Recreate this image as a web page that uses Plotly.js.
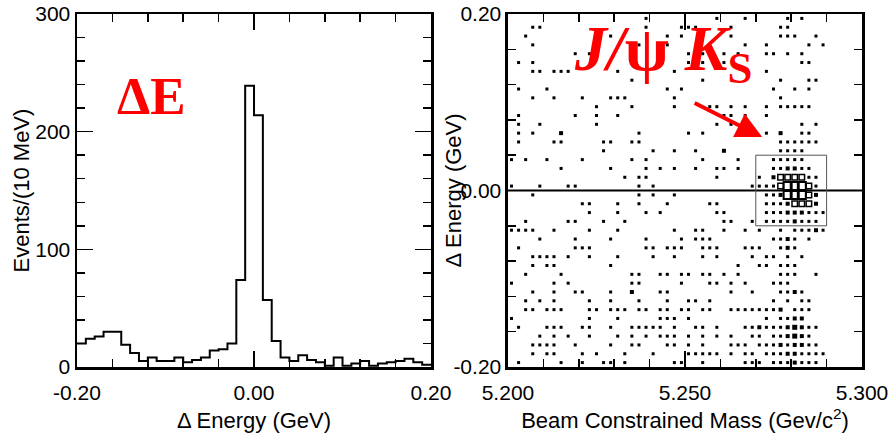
<!DOCTYPE html>
<html><head><meta charset="utf-8">
<script src="https://cdn.plot.ly/plotly-3.0.1.min.js"></script>
<style>html,body{margin:0;padding:0;background:#fff}#chart{width:890px;height:434px}</style>
</head><body><div id="chart"></div>
<script>
// ---- Left panel: Delta E histogram (10 MeV bins from -0.20 GeV) ----
const histBinStart = -0.20;
const histBinWidth = 0.01;
const histCounts = [20,24,26,30,30,19,12,5,8,5,5,8,4,6,8,14,15,20,74,239,
                    214,57,22,8,5,10,6,4,1,8,1,3,5,1,3,4,5,7,4,2];
const leftXTickVals = [-0.2, 0, 0.2];
const leftXTickText = ['-0.20', '0.00', '0.20'];
const leftYTickVals = [0, 100, 200, 300];
const leftYTickText = ['0', '100', '200', '300'];

// ---- Right panel: box plot of Delta E vs beam constrained mass ----
// bins: mass 5.200..5.300 in 0.002 steps (50 columns), dE 0.20..-0.20 in 0.01 steps (40 rows, top first)
const massStart = 5.200;
const massBinWidth = 0.002;
const deTop = 0.20;
const deBinWidth = 0.01;
// each row lists the mass-column index of every entry (repeated index = more entries)
const cellRows = [
  [19,29,33,39,41],
  [3,4,19,24,25,26,31,38,39],
  [2,14,22,24,31,38,39,40,43],
  [3,18,22,33,36,42,44],
  [9,11,25,27,30,32,36,37,39,41],
  [1,3,25,27,30,41,42],
  [3,4,6,7,8,15,23,36],
  [17,27,38,42,43],
  [1,5,22,24,37,40,42],
  [3,6,10,14,15,16,23,38],
  [12,17,23,28,29,31,33,36,38,39,40,41,42],
  [1,9,12,15,30,31,33,36],
  [1,4,12,29,31,41,43],
  [1,3,7,7,18,25,27,36,38,38,41,42],
  [1,6,7,13,14,17,18,38,39,40,41,42,43],
  [13,20,23,26,30,30,38,39,40,41],
  [0,2,5,10,17,19,27,32,37,38,39,40,41],
  [7,14,19,21,23,26,29,30,32,37,38,39,39,40,40,41,42],
  [16,18,19,29,35,37,37,38,38,38,38,39,39,39,39,40,40,40,40,41,41,41,41,42,43],
  [0,4,8,9,18,20,34,35,36,37,38,38,38,38,39,39,39,39,39,39,40,40,40,40,40,40,41,41,41,41,41,41,42,42,42,42,43],
  [3,18,20,23,36,37,38,38,39,39,39,39,39,39,40,40,40,40,40,40,41,41,41,41,41,41,42,42,42,42,43,43],
  [10,11,15,18,22,28,29,36,37,38,39,39,40,40,40,40,41,41,41,41,42,42,42,42,43,43],
  [11,15,19,21,29,30,36,37,38,39,39,40,40,41,41,42,43,44],
  [2,8,9,13,16,30,31,34,36,37,38,39,40,40,41,42,43],
  [0,1,2,3,6,11,15,23,26,27,30,33,35,38,40,41,42,43,43,44],
  [4,9,14,19,24,26,27,28,37,38,39,39,40,42],
  [1,9,10,11,19,20,22,23,24,27,28,29,33,34,35,38,39,39,40],
  [3,4,5,6,8,11,15,20,23,27,29,34,36,37,39,41],
  [3,5,6,14,32,35,36,38,39,40],
  [2,7,17,18,21,22,24,25,27,28,30,32,38,39,40,43],
  [0,6,8,17,18,24,28,29,31,33,37,38,39],
  [3,6,9,10,14,17,17,21,22,31,34,38,39,40,40,41],
  [2,4,6,11,14,18,22,25,26,28,37,39,41,42],
  [2,3,5,6,7,11,12,14,15,16,18,19,21,22,24,25,27,28,31,32,33,34,35,36,37,38,38,40,41,42],
  [0,11,15,21,22,23,25,36,38,39,40,40,41,41],
  [1,5,6,7,10,11,14,17,18,19,20,21,23,26,27,29,33,34,35,35,36,37,38,39,39,40,40,40,41,41,42,43],
  [4,6,8,11,15,17,19,21,22,23,25,27,29,31,34,35,37,38,39,39,40,40,40,41,41,42],
  [3,4,5,6,9,14,17,18,22,23,25,27,31,32,33,35,36,37,38,38,39,40,40,41,41,42,43],
  [3,5,6,10,12,16,20,25,26,27,28,29,31,33,34,36,37,38,39,39,40,40,41,42,43,44],
  [1,7,10,13,14,16,23,24,27,33,34,35,37,38,39,40,40,41,42,43]
];
const rightXTickVals = [5.2, 5.25, 5.3];
const rightXTickText = ['5.200', '5.250', '5.300'];
const rightYTickVals = [-0.2, 0, 0.2];
const rightYTickText = ['-0.20', '0.00', '0.20'];
const signalBox = {m0: 5.27, m1: 5.29, e0: -0.04, e1: 0.04};

// ---- build histogram step line ----
const histX = histCounts.map((_, i) => histBinStart + i * histBinWidth);
histX.push(histBinStart + histCounts.length * histBinWidth);
const histY = histCounts.concat([histCounts[histCounts.length - 1]]);

// ---- build box plot cells (grouped by drawing class) ----
function classOf(n) { return n >= 6 ? 5 : n >= 4 ? 4 : n; }
const classes = {1: {x: [], y: []}, 2: {x: [], y: []}, 3: {x: [], y: []}, 4: {x: [], y: []}, 5: {x: [], y: []}};
cellRows.forEach((row, i) => {
  const counts = {};
  row.forEach(j => { counts[j] = (counts[j] || 0) + 1; });
  Object.keys(counts).forEach(j => {
    const c = classOf(counts[j]);
    classes[c].x.push(massStart + (Number(j) + 0.5) * massBinWidth);
    classes[c].y.push(deTop - (i + 0.5) * deBinWidth);
  });
});
const markerStyle = {
  1: {symbol: 'square', size: 3, color: '#000', line: {width: 0}},
  2: {symbol: 'square', size: 4, color: '#000', line: {width: 0}},
  3: {symbol: 'square', size: 5, color: '#000', line: {width: 0}},
  4: {symbol: 'square-open', size: 5.5, color: '#000', line: {width: 1.5, color: '#000'}},
  5: {symbol: 'square-open', size: 8, color: '#000', line: {width: 2, color: '#000'}}
};

const FONT = 'Liberation Sans, Arial, Helvetica, sans-serif';
const SERIF = 'Liberation Serif, Times New Roman, serif';

const traces = [{
  type: 'scatter', mode: 'lines', x: histX, y: histY,
  line: {shape: 'hv', color: '#000', width: 2}, xaxis: 'x', yaxis: 'y',
  hoverinfo: 'skip', showlegend: false
}];
[1, 2, 3, 4, 5].forEach(c => {
  traces.push({
    type: 'scatter', mode: 'markers', x: classes[c].x, y: classes[c].y,
    marker: markerStyle[c], xaxis: 'x2', yaxis: 'y2', showlegend: false, hoverinfo: 'skip'
  });
});

const axCommon = {
  showline: true, linewidth: 2.5, linecolor: '#000', mirror: 'allticks',
  ticks: 'inside', ticklen: 16, tickwidth: 1.5, tickcolor: '#000',
  showgrid: false, zeroline: false, tickmode: 'array',
  tickfont: {family: FONT, size: 21, color: '#000'}
};
const minor = (d, t0) => ({dtick: d, tick0: t0, ticks: 'inside', ticklen: 8, tickwidth: 1.5, tickcolor: '#000', showgrid: false});

const layout = {
  width: 890, height: 434,
  margin: {l: 77, r: 28, t: 14, b: 67},
  paper_bgcolor: '#fff', plot_bgcolor: '#fff',
  font: {family: FONT, size: 21, color: '#000'},
  xaxis: Object.assign({}, axCommon, {
    domain: [0, 0.451], range: [-0.2, 0.2], tickvals: leftXTickVals, ticktext: leftXTickText,
    minor: minor(0.04, -0.2), anchor: 'y', ticklabelstandoff: 5,
    title: {text: 'Δ Energy (GeV)', font: {family: FONT, size: 22}, standoff: 10}
  }),
  yaxis: Object.assign({}, axCommon, {
    domain: [0, 1], range: [0, 300], tickvals: leftYTickVals, ticktext: leftYTickText,
    minor: minor(20, 0), anchor: 'x'
  }),
  xaxis2: Object.assign({}, axCommon, {
    domain: [0.549, 1], range: [5.2, 5.3], tickvals: rightXTickVals, ticktext: rightXTickText,
    minor: minor(0.01, 5.2), anchor: 'y2', ticklabelstandoff: 5,
    title: {text: 'Beam Constrained Mass (Gev/c<sup>2</sup>)', font: {family: FONT, size: 22}, standoff: 10}
  }),
  yaxis2: Object.assign({}, axCommon, {
    domain: [0, 1], range: [-0.2, 0.2], tickvals: rightYTickVals, ticktext: rightYTickText,
    minor: minor(0.04, -0.2), anchor: 'x2'
  }),
  shapes: [
    {type: 'line', xref: 'x2', yref: 'y2', x0: 5.2, x1: 5.3, y0: 0, y1: 0, line: {color: '#000', width: 2}},
    {type: 'rect', xref: 'x2', yref: 'y2', x0: signalBox.m0, x1: signalBox.m1, y0: signalBox.e0, y1: signalBox.e1,
     line: {color: '#555', width: 1}}
  ],
  annotations: [
    {xref: 'paper', yref: 'paper', x: -0.0701, y: 0.5, text: 'Events/(10 MeV)', textangle: -90,
     showarrow: false, font: {family: FONT, size: 22, color: '#000'}, xanchor: 'center', yanchor: 'middle'},
    {xref: 'paper', yref: 'paper', x: 0.479, y: 0.5, text: 'Δ Energy (GeV)', textangle: -90,
     showarrow: false, font: {family: FONT, size: 22, color: '#000'}, xanchor: 'center', yanchor: 'middle'},
    {xref: 'x', yref: 'y', x: -0.116, y: 230, text: '<b>ΔE</b>', showarrow: false,
     font: {family: SERIF, size: 53, color: '#ff0000'}, xanchor: 'center', yanchor: 'middle'},
    {xref: 'x2', yref: 'y2', x: 5.2180, y: 0.156, text: '<b><i>J/</i>ψ <i>K</i><sub>S</sub></b>', showarrow: false,
     font: {family: SERIF, size: 64, color: '#ff0000'}, xanchor: 'left', yanchor: 'middle'},
    {xref: 'x2', yref: 'y2', x: 5.2718, y: 0.0606, axref: 'x2', ayref: 'y2', ax: 5.2523, ay: 0.100,
     text: '', showarrow: true, arrowhead: 2, arrowsize: 1.3, arrowwidth: 4, arrowcolor: '#ff0000', standoff: 0}
  ]
};

Plotly.newPlot('chart', traces, layout, {staticPlot: true, displayModeBar: false});
</script>
</body></html>
